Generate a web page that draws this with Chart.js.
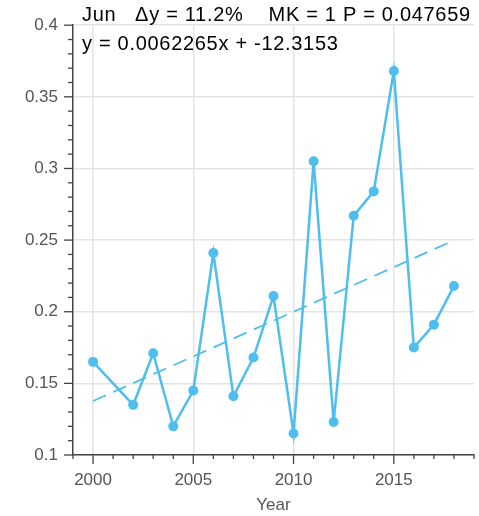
<!DOCTYPE html>
<html>
<head>
<meta charset="utf-8">
<script src="https://cdn.jsdelivr.net/npm/chart.js@4"></script>
<style>
  html, body { margin: 0; padding: 0; background: #fff; }
  #wrap { width: 479px; height: 516px; }
</style>
</head>
<body>
<div id="wrap"><canvas id="junChart" width="479" height="516"></canvas></div>
<script>
// data (2001 is missing)
const years = [2000, 2002, 2003, 2004, 2005, 2006, 2007, 2008, 2009, 2010, 2011, 2012, 2013, 2014, 2015, 2016, 2017, 2018];
const values = [0.165, 0.135, 0.171, 0.120, 0.145, 0.241, 0.141, 0.168, 0.211, 0.115, 0.305, 0.123, 0.267, 0.284, 0.368, 0.175, 0.191, 0.218];
// trend line ends (y = 0.0062265x - 12.3153)
const trendYears = [2000, 2018];
const trendValues = [0.1377, 0.2498];
const xTicks = [2000, 2005, 2010, 2015];
const yTicks = [0.1, 0.15, 0.2, 0.25, 0.3, 0.35, 0.4];
const titleLine1 = 'Jun   \u0394y = 11.2%    MK = 1 P = 0.047659';
const titleLine2 = 'y = 0.0062265x + -12.3153';

const blue = '#4DBEEE';
const fontFam = '"Liberation Sans", Arial, Helvetica, sans-serif';

// minor/major tick marks + title text
const axisDecor = {
    id: 'axisDecor',
    afterDraw(chart) {
        const ctx = chart.ctx;
        const xs = chart.scales.x, ys = chart.scales.y;
        const area = chart.chartArea;
        ctx.save();
        ctx.strokeStyle = '#444';
        ctx.lineWidth = 1.3;
        // x ticks, every year
        for (let v = 1999; v <= 2019; v++) {
            const px = xs.getPixelForValue(v);
            const len = (v % 5 === 0) ? 9 : 4;
            ctx.beginPath();
            ctx.moveTo(px, area.bottom);
            ctx.lineTo(px, area.bottom + len);
            ctx.stroke();
        }
        // y ticks, every 0.01
        for (let i = 10; i <= 40; i++) {
            const py = ys.getPixelForValue(i / 100);
            const len = (i % 5 === 0) ? 9 : 5;
            ctx.beginPath();
            ctx.moveTo(area.left, py);
            ctx.lineTo(area.left - len, py);
            ctx.stroke();
        }
        // title lines
        ctx.fillStyle = '#000';
        ctx.font = '20px ' + fontFam;
        ctx.letterSpacing = '0.7px';
        ctx.textBaseline = 'alphabetic';
        ctx.textAlign = 'left';
        ctx.fillText(titleLine1, 82, 21);
        ctx.fillText(titleLine2, 82, 50);
        ctx.restore();
    }
};

const ctx = document.getElementById('junChart').getContext('2d');
new Chart(ctx, {
    type: 'line',
    data: {
        datasets: [{
            label: 'Jun',
            data: years.map((y, i) => ({ x: y, y: values[i] })),
            borderColor: blue,
            backgroundColor: blue,
            borderWidth: 2.5,
            pointRadius: 5,
            pointHoverRadius: 5,
            pointBorderWidth: 0,
            tension: 0
        }, {
            label: 'trend',
            data: trendYears.map((y, i) => ({ x: y, y: trendValues[i] })),
            borderColor: blue,
            borderWidth: 1.8,
            borderDash: [14, 8],
            pointRadius: 0,
            tension: 0
        }]
    },
    plugins: [axisDecor],
    options: {
        responsive: false,
        animation: false,
        layout: { padding: { top: 25, right: 5, left: 0, bottom: 0 } },
        plugins: {
            legend: { display: false },
            tooltip: { enabled: false }
        },
        scales: {
            x: {
                type: 'linear',
                min: 1999,
                max: 2019,
                afterFit: s => { s.height = 61; },
                afterBuildTicks: s => { s.ticks = xTicks.map(v => ({ value: v })); },
                ticks: {
                    color: '#555',
                    font: { size: 17, family: fontFam },
                    padding: 15,
                    callback: v => String(v)
                },
                grid: { color: '#e4e4e4', lineWidth: 1.5, drawTicks: false },
                border: { color: '#444', width: 1.5 },
                title: {
                    display: true,
                    text: 'Year',
                    color: '#555',
                    font: { size: 17, family: fontFam },
                    padding: { top: 0, bottom: 0 }
                }
            },
            y: {
                min: 0.1,
                max: 0.4,
                afterFit: s => { s.width = 73; },
                afterBuildTicks: s => { s.ticks = yTicks.map(v => ({ value: v })); },
                ticks: {
                    color: '#555',
                    font: { size: 17, family: fontFam },
                    padding: 15,
                    callback: v => String(+v.toFixed(2))
                },
                grid: { color: '#e4e4e4', lineWidth: 1.5, drawTicks: false },
                border: { color: '#444', width: 1.5 }
            }
        }
    }
});
</script>
</body>
</html>
